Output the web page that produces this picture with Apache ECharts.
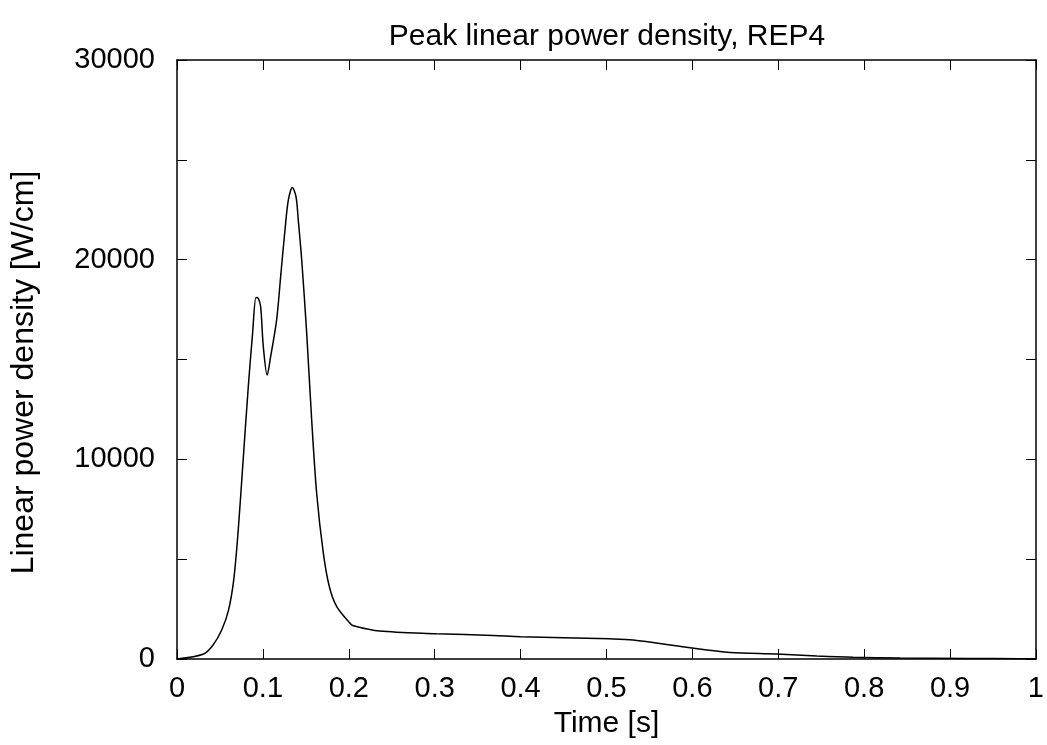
<!DOCTYPE html>
<html>
<head>
    <meta charset="utf-8">
    <title>Peak linear power density</title>
    <style>
        html, body { margin: 0; padding: 0; background: #fff; }
        #main { width: 1047px; height: 745px; }
    </style>
</head>
<body>
    <div id="main"></div>
    <script src="https://cdn.jsdelivr.net/npm/echarts@6/dist/echarts.min.js"></script>
    <script>
    // curve: time [s] and linear power density [W/cm]
    var timeS = [0, 0.031, 0.042, 0.052, 0.060, 0.066, 0.071, 0.077, 0.083, 0.088, 0.092, 0.0946,
        0.0974, 0.1005, 0.105, 0.109, 0.116, 0.121, 0.1257, 0.1296, 0.1343, 0.1386, 0.1412, 0.1452,
        0.151, 0.1568, 0.1626, 0.1704, 0.1774, 0.186, 0.2014, 0.2053, 0.236, 0.302, 0.368, 0.40,
        0.45, 0.504, 0.531, 0.593, 0.644, 0.698, 0.745, 0.787, 0.842, 0.919, 0.981, 1.0];
    var powerWcm = [0, 250, 700, 1450, 2450, 3950, 6290, 9960, 13640, 16310, 18110, 18060,
        17640, 15640, 14220, 15140, 16980, 19310, 21480, 22980, 23620, 23150, 21980, 19980,
        16310, 11970, 8300, 5290, 3620, 2620, 1790, 1670, 1400, 1270, 1180, 1120,
        1070, 1010, 950, 590, 330, 250, 150, 85, 50, 30, 15, 10];
    var yTickLabels = [0, 10000, 20000, 30000];

    var points = timeS.map(function (t, i) { return [t, powerWcm[i]]; });

    var font = 'Liberation Sans, Arial, sans-serif';
    var lineStyle = { color: '#000', width: 1.5 };

    function axisBase(extra) {
        var a = {
            type: 'value',
            axisLine: { show: true, onZero: false, lineStyle: lineStyle },
            axisTick: { show: true, inside: true, length: 10, lineStyle: { color: '#000', width: 1 } },
            splitLine: { show: false },
            axisLabel: { show: false }
        };
        for (var k in extra) a[k] = extra[k];
        return a;
    }

    var chart = echarts.init(document.getElementById('main'), null, { renderer: 'canvas' });
    chart.setOption({
        animation: false,
        backgroundColor: '#fff',
        title: {
            text: 'Peak linear power density, REP4',
            left: 602, top: 17, textAlign: 'center',
            textStyle: { fontFamily: font, fontSize: 30, fontWeight: 'normal', color: '#000' }
        },
        grid: { left: 177, right: 11, top: 60, bottom: 86, containLabel: false },
        xAxis: [
            axisBase({
                position: 'bottom', min: 0, max: 1, interval: 0.1,
                name: 'Time [s]', nameLocation: 'middle', nameGap: 50,
                nameTextStyle: { fontFamily: font, fontSize: 30, color: '#000' },
                axisLabel: { show: true, margin: 15, fontFamily: font, fontSize: 29, color: '#000' }
            }),
            axisBase({ position: 'top', min: 0, max: 1, interval: 0.1 })
        ],
        yAxis: [
            axisBase({
                position: 'left', min: 0, max: 30000, interval: 5000,
                name: 'Linear power density [W/cm]', nameLocation: 'middle', nameGap: 137,
                nameTextStyle: { fontFamily: font, fontSize: 32, color: '#000', padding: [0, 26, 0, 0] },
                axisLabel: {
                    show: true, margin: 22, fontFamily: font, fontSize: 29, color: '#000',
                    formatter: function (v) { return yTickLabels.indexOf(v) >= 0 ? String(v) : ''; }
                }
            }),
            axisBase({ position: 'right', min: 0, max: 30000, interval: 5000 })
        ],
        series: [{
            type: 'line',
            xAxisIndex: 0,
            yAxisIndex: 0,
            data: points,
            smooth: 0.3,
            showSymbol: false,
            lineStyle: { color: '#000', width: 1.5 }
        }]
    });
    </script>
</body>
</html>
